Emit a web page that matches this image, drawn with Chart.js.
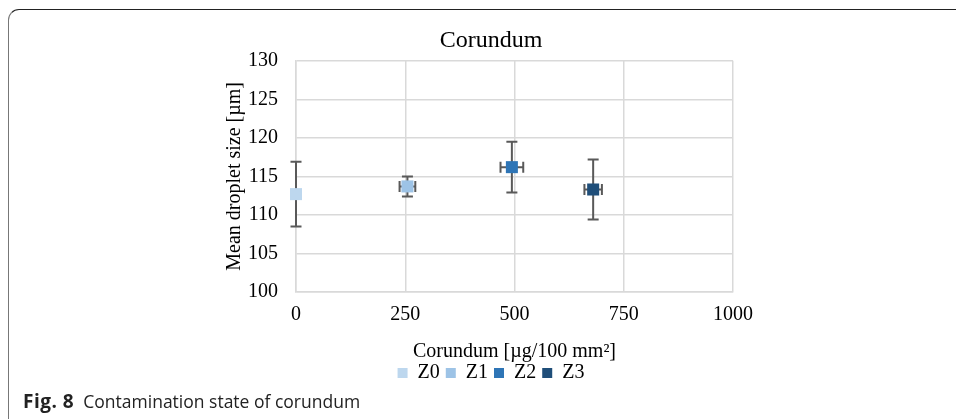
<!DOCTYPE html>
<html lang="en">
<head>
    <meta charset="UTF-8">
    <title>Corundum</title>
    <script src="https://cdn.jsdelivr.net/npm/chart.js"></script>
    <style>
        body {
            margin: 0;
            width: 956px;
            height: 419px;
            background-color: white;
            position: relative;
            overflow: hidden;
        }
        .frame {
            position: absolute;
            left: 8px;
            top: 9px;
            right: -20px;
            bottom: -20px;
            border-top: 1.5px solid #222;
            border-left: 1.5px solid #777;
            border-top-left-radius: 11px;
        }
        canvas {
            position: absolute;
            left: 0;
            top: 0;
        }
        .caption {
            position: absolute;
            left: 23px;
            top: 392px;
            font-family: "Open Sans", sans-serif;
            font-size: 17.5px;
            line-height: 1;
            color: #222;
            white-space: pre;
        }
        .caption b {
            font-weight: 700;
            font-size: 19px;
            letter-spacing: 0.5px;
        }
    </style>
</head>
<body>
    <div class="frame"></div>
    <canvas id="myChart" width="956" height="419"></canvas>
    <div class="caption"><b>Fig. 8</b>  Contamination state of corundum</div>

    <script>
        // dados
        const labels = ['Z0', 'Z1', 'Z2', 'Z3'];
        const corundum = [0, 255, 494, 680];
        const dropletSize = [112.7, 113.7, 116.2, 113.3];
        const yError = [4.2, 1.3, 3.3, 3.9];
        const xError = [0, 18, 26, 20];
        const colors = ['#bdd7ee', '#9dc3e6', '#2e75b6', '#1f4e79'];

        const serif = '"Liberation Serif", "Times New Roman", serif';

        // barras de erro desenhadas com as escalas do gráfico
        const errorBars = {
            id: 'errorBars',
            beforeDatasetsDraw(chart) {
                const ctx = chart.ctx;
                const xs = chart.scales.x;
                const ys = chart.scales.y;
                const cap = 5.5;
                ctx.save();
                ctx.strokeStyle = '#595959';
                ctx.lineWidth = 2;
                labels.forEach((l, i) => {
                    const px = xs.getPixelForValue(corundum[i]);
                    const py = ys.getPixelForValue(dropletSize[i]);
                    const top = ys.getPixelForValue(dropletSize[i] + yError[i]);
                    const bot = ys.getPixelForValue(dropletSize[i] - yError[i]);
                    ctx.beginPath();
                    ctx.moveTo(px, top); ctx.lineTo(px, bot);
                    ctx.moveTo(px - cap, top); ctx.lineTo(px + cap, top);
                    ctx.moveTo(px - cap, bot); ctx.lineTo(px + cap, bot);
                    if (xError[i] > 0) {
                        const left = xs.getPixelForValue(corundum[i] - xError[i]);
                        const right = xs.getPixelForValue(corundum[i] + xError[i]);
                        ctx.moveTo(left, py); ctx.lineTo(right, py);
                        ctx.moveTo(left, py - cap); ctx.lineTo(left, py + cap);
                        ctx.moveTo(right, py - cap); ctx.lineTo(right, py + cap);
                    }
                    ctx.stroke();
                });
                ctx.restore();
            }
        };

        const data = {
            datasets: labels.map((l, i) => ({
                label: l,
                data: [{x: corundum[i], y: dropletSize[i]}],
                backgroundColor: colors[i],
                borderColor: colors[i],
                borderWidth: 0,
                pointStyle: 'rect',
                pointRadius: 8.5,
                pointHoverRadius: 8.5,
                clip: false
            }))
        };

        const config = {
            type: 'scatter',
            data: data,
            plugins: [errorBars],
            options: {
                responsive: false,
                animation: false,
                layout: {
                    padding: {left: 100, right: 74, top: 26, bottom: 26}
                },
                plugins: {
                    tooltip: {enabled: false},
                    title: {
                        display: true,
                        text: 'Corundum',
                        color: '#000',
                        font: {family: serif, size: 24, weight: 'normal'},
                        padding: {top: 0, bottom: 6}
                    },
                    legend: {
                        position: 'bottom',
                        labels: {
                            color: '#000',
                            font: {family: serif, size: 20},
                            boxWidth: 10,
                            boxHeight: 10,
                            padding: 6
                        }
                    }
                },
                scales: {
                    x: {
                        type: 'linear',
                        min: 0,
                        max: 1000,
                        ticks: {
                            stepSize: 250,
                            padding: 11,
                            color: '#000',
                            font: {family: serif, size: 20},
                            callback: v => String(v)
                        },
                        grid: {color: '#d9d9d9', lineWidth: 1.5, drawTicks: false},
                        border: {color: '#d9d9d9', width: 1.5},
                        title: {
                            display: true,
                            text: 'Corundum [µg/100 mm²]',
                            color: '#000',
                            font: {family: serif, size: 20, lineHeight: 0.1},
                            padding: {top: 0, bottom: 4}
                        },
                        afterFit: s => { s.height = 65; }
                    },
                    y: {
                        min: 100,
                        max: 130,
                        ticks: {
                            stepSize: 5,
                            padding: 18,
                            color: '#000',
                            font: {family: serif, size: 20}
                        },
                        grid: {color: '#d9d9d9', lineWidth: 1.5, drawTicks: false},
                        border: {color: '#d9d9d9', width: 1.5},
                        title: {
                            display: true,
                            text: 'Mean droplet size [µm]',
                            color: '#000',
                            font: {family: serif, size: 20},
                            padding: {top: 123, bottom: 0}
                        },
                        afterFit: s => { s.width = 196; }
                    },
                    y2: {
                        position: 'right',
                        display: true,
                        ticks: {display: false},
                        grid: {display: false},
                        border: {display: false},
                        afterFit: s => { s.width = 149; }
                    }
                }
            }
        };

        new Chart(document.getElementById('myChart').getContext('2d'), config);
    </script>
</body>
</html>
